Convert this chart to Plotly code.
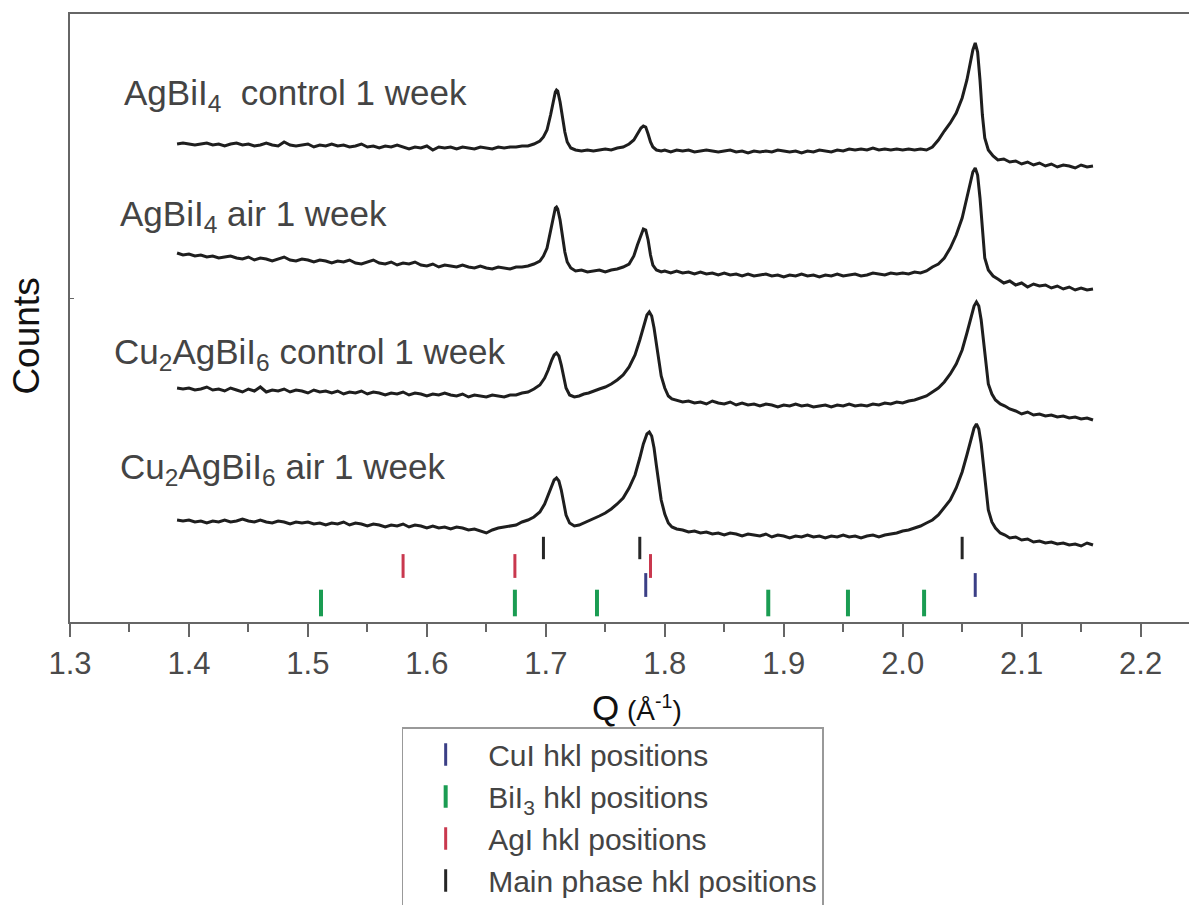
import plotly.graph_objects as go

# ---------------- data (Q in 1/Å, intensity in arbitrary counts) ----------------
agbii4_control = [
    [1.390, 6], [1.395, 7], [1.400, 6], [1.405, 5], [1.410, 6], [1.415, 7], [1.420, 5], [1.425, 6],
    [1.430, 4], [1.435, 6], [1.440, 7], [1.445, 5], [1.450, 6], [1.455, 4], [1.460, 5], [1.465, 7],
    [1.470, 5], [1.475, 4], [1.480, 8], [1.485, 5], [1.490, 4], [1.495, 5], [1.500, 6], [1.505, 3],
    [1.510, 5], [1.515, 4], [1.520, 6], [1.525, 4], [1.530, 5], [1.535, 3], [1.540, 4], [1.545, 6],
    [1.550, 3], [1.555, 4], [1.560, 2], [1.565, 4], [1.570, 3], [1.575, 5], [1.580, 3], [1.585, 1],
    [1.590, 3], [1.595, 2], [1.600, 4], [1.605, 0], [1.610, 3], [1.615, 2], [1.620, 3], [1.625, 1],
    [1.630, 3], [1.635, 2], [1.640, 1], [1.645, 3], [1.650, 2], [1.655, 1], [1.660, 3], [1.665, 2],
    [1.670, 3], [1.675, 3], [1.680, 4], [1.685, 4], [1.690, 6], [1.695, 9], [1.698, 13], [1.701, 20],
    [1.704, 35], [1.706, 48], [1.708, 58], [1.709, 60], [1.710, 59], [1.712, 48], [1.714, 32],
    [1.716, 18], [1.718, 8], [1.721, 2], [1.725, 0], [1.730, -1], [1.735, 0], [1.740, -1], [1.745, 0],
    [1.750, 1], [1.755, 0], [1.760, 2], [1.765, 3], [1.770, 6], [1.774, 10], [1.777, 16], [1.780, 22],
    [1.782, 24], [1.784, 23], [1.786, 16], [1.788, 8], [1.790, 3], [1.793, 0], [1.797, -1],
    [1.800, 0], [1.805, -2], [1.810, 0], [1.815, -1], [1.820, 0], [1.825, -2], [1.830, -1], [1.835, 0],
    [1.840, -1], [1.845, -2], [1.850, -1], [1.855, 0], [1.860, -2], [1.865, -1], [1.870, -3],
    [1.875, -1], [1.880, -2], [1.885, -1], [1.890, -2], [1.895, 0], [1.900, -1], [1.905, -2],
    [1.910, -1], [1.915, -3], [1.920, -1], [1.925, -2], [1.930, 0], [1.935, -1], [1.940, -2],
    [1.945, 0], [1.950, -1], [1.955, 1], [1.960, 0], [1.965, 1], [1.970, 0], [1.975, 2], [1.980, 0],
    [1.985, 1], [1.990, 0], [1.995, 1], [2.000, 0], [2.005, 1], [2.010, 0], [2.015, 1], [2.020, 0],
    [2.025, 3], [2.030, 10], [2.035, 19], [2.040, 27], [2.045, 37], [2.050, 52], [2.054, 70],
    [2.057, 88], [2.059, 100], [2.061, 107], [2.063, 98], [2.065, 70], [2.067, 35], [2.069, 12],
    [2.072, 0], [2.076, -6], [2.080, -10], [2.085, -9], [2.090, -12], [2.095, -11], [2.100, -14],
    [2.105, -12], [2.110, -15], [2.115, -13], [2.120, -16], [2.125, -14], [2.130, -17], [2.135, -15],
    [2.140, -16], [2.145, -18], [2.150, -15], [2.155, -17], [2.160, -16],
]

agbii4_air = [
    [1.390, 17], [1.395, 15], [1.400, 16], [1.405, 14], [1.410, 15], [1.415, 13], [1.420, 14],
    [1.425, 12], [1.430, 13], [1.435, 14], [1.440, 12], [1.445, 11], [1.450, 13], [1.455, 10],
    [1.460, 12], [1.465, 11], [1.470, 9], [1.475, 11], [1.480, 13], [1.485, 10], [1.490, 9],
    [1.495, 11], [1.500, 10], [1.505, 8], [1.510, 10], [1.515, 9], [1.520, 7], [1.525, 9],
    [1.530, 8], [1.535, 10], [1.540, 7], [1.545, 6], [1.550, 8], [1.555, 10], [1.560, 7], [1.565, 6],
    [1.570, 8], [1.575, 5], [1.580, 7], [1.585, 6], [1.590, 8], [1.595, 5], [1.600, 4], [1.605, 6],
    [1.610, 3], [1.615, 5], [1.620, 4], [1.625, 3], [1.630, 5], [1.635, 3], [1.640, 2], [1.645, 4],
    [1.650, 2], [1.655, 1], [1.660, 3], [1.665, 2], [1.670, 1], [1.675, 3], [1.680, 3], [1.685, 4],
    [1.690, 6], [1.695, 9], [1.698, 14], [1.701, 22], [1.704, 38], [1.706, 52], [1.708, 62],
    [1.709, 63], [1.710, 61], [1.712, 50], [1.714, 34], [1.716, 18], [1.718, 8], [1.721, 2],
    [1.725, -1], [1.730, 0], [1.735, -2], [1.740, -1], [1.745, 0], [1.750, -2], [1.755, 0],
    [1.760, 1], [1.765, 3], [1.770, 6], [1.774, 14], [1.777, 25], [1.780, 36], [1.782, 41],
    [1.784, 40], [1.786, 30], [1.788, 15], [1.790, 5], [1.793, 0], [1.797, -2], [1.800, -1],
    [1.805, -3], [1.810, -1], [1.815, -3], [1.820, -2], [1.825, -4], [1.830, -2], [1.835, -4],
    [1.840, -3], [1.845, -5], [1.850, -3], [1.855, -5], [1.860, -4], [1.865, -6], [1.870, -4],
    [1.875, -6], [1.880, -5], [1.885, -4], [1.890, -6], [1.895, -5], [1.900, -7], [1.905, -5],
    [1.910, -6], [1.915, -4], [1.920, -6], [1.925, -5], [1.930, -7], [1.935, -5], [1.940, -6],
    [1.945, -4], [1.950, -6], [1.955, -5], [1.960, -4], [1.965, -6], [1.970, -5], [1.975, -3],
    [1.980, -4], [1.985, -5], [1.990, -3], [1.995, -4], [2.000, -3], [2.005, -4], [2.010, -2],
    [2.015, -3], [2.020, -1], [2.025, 3], [2.030, 6], [2.035, 12], [2.040, 22], [2.045, 35],
    [2.050, 52], [2.054, 72], [2.057, 88], [2.059, 98], [2.061, 102], [2.063, 95], [2.065, 72],
    [2.067, 38], [2.069, 12], [2.072, 0], [2.076, -6], [2.080, -9], [2.085, -13], [2.090, -11],
    [2.095, -15], [2.100, -13], [2.105, -17], [2.110, -14], [2.115, -16], [2.120, -15], [2.125, -18],
    [2.130, -16], [2.135, -19], [2.140, -17], [2.145, -20], [2.150, -18], [2.155, -20], [2.160, -19],
]

cu2agbii6_control = [
    [1.390, 12], [1.395, 11], [1.400, 12], [1.405, 10], [1.410, 11], [1.415, 13], [1.420, 10],
    [1.425, 11], [1.430, 9], [1.435, 12], [1.440, 10], [1.445, 8], [1.450, 11], [1.455, 9],
    [1.460, 13], [1.465, 8], [1.470, 10], [1.475, 9], [1.480, 11], [1.485, 8], [1.490, 10],
    [1.495, 9], [1.500, 7], [1.505, 10], [1.510, 8], [1.515, 9], [1.520, 7], [1.525, 9], [1.530, 6],
    [1.535, 8], [1.540, 7], [1.545, 9], [1.550, 6], [1.555, 8], [1.560, 7], [1.565, 5], [1.570, 7],
    [1.575, 6], [1.580, 8], [1.585, 5], [1.590, 7], [1.595, 6], [1.600, 4], [1.605, 6], [1.610, 5],
    [1.615, 7], [1.620, 5], [1.625, 4], [1.630, 6], [1.635, 3], [1.640, 5], [1.645, 4], [1.650, 3],
    [1.655, 5], [1.660, 4], [1.665, 3], [1.670, 5], [1.675, 5], [1.680, 7], [1.685, 8], [1.690, 11],
    [1.695, 15], [1.699, 22], [1.702, 30], [1.705, 40], [1.707, 45], [1.709, 47], [1.711, 44],
    [1.713, 35], [1.715, 22], [1.717, 12], [1.720, 5], [1.724, 3], [1.728, 4], [1.732, 6],
    [1.736, 7], [1.740, 9], [1.745, 11], [1.750, 13], [1.755, 16], [1.760, 20], [1.765, 25],
    [1.770, 33], [1.775, 45], [1.779, 60], [1.782, 74], [1.785, 85], [1.787, 88], [1.789, 84],
    [1.791, 72], [1.793, 55], [1.795, 38], [1.797, 24], [1.800, 12], [1.803, 4], [1.806, 1],
    [1.810, 0], [1.815, -2], [1.820, -1], [1.825, -3], [1.830, -2], [1.835, -4], [1.840, -1],
    [1.845, -3], [1.850, -4], [1.855, -2], [1.860, -5], [1.865, -3], [1.870, -5], [1.875, -4],
    [1.880, -6], [1.885, -4], [1.890, -5], [1.895, -7], [1.900, -5], [1.905, -6], [1.910, -4],
    [1.915, -6], [1.920, -5], [1.925, -7], [1.930, -6], [1.935, -5], [1.940, -7], [1.945, -5],
    [1.950, -6], [1.955, -4], [1.960, -6], [1.965, -5], [1.970, -6], [1.975, -4], [1.980, -5],
    [1.985, -3], [1.990, -4], [1.995, -2], [2.000, -3], [2.005, -1], [2.010, 0], [2.015, 2],
    [2.020, 4], [2.025, 8], [2.030, 12], [2.035, 18], [2.040, 26], [2.045, 36], [2.050, 50],
    [2.054, 67], [2.057, 82], [2.060, 94], [2.062, 98], [2.064, 94], [2.066, 80], [2.068, 58],
    [2.070, 34], [2.072, 16], [2.075, 6], [2.078, 0], [2.082, -4], [2.086, -6], [2.090, -9],
    [2.095, -11], [2.100, -14], [2.105, -12], [2.110, -15], [2.115, -14], [2.120, -16], [2.125, -15],
    [2.130, -17], [2.135, -16], [2.140, -18], [2.145, -17], [2.150, -19], [2.155, -18], [2.160, -20],
]

cu2agbii6_air = [
    [1.390, 10], [1.395, 9], [1.400, 10], [1.405, 8], [1.410, 9], [1.415, 7], [1.420, 9], [1.425, 8],
    [1.430, 10], [1.435, 8], [1.440, 9], [1.445, 11], [1.450, 9], [1.455, 8], [1.460, 10], [1.465, 8],
    [1.470, 7], [1.475, 9], [1.480, 8], [1.485, 6], [1.490, 8], [1.495, 7], [1.500, 8], [1.505, 6],
    [1.510, 7], [1.515, 5], [1.520, 7], [1.525, 6], [1.530, 8], [1.535, 5], [1.540, 7], [1.545, 6],
    [1.550, 4], [1.555, 6], [1.560, 5], [1.565, 3], [1.570, 5], [1.575, 4], [1.580, 6], [1.585, 3],
    [1.590, 5], [1.595, 4], [1.600, 2], [1.605, 4], [1.610, 2], [1.615, 3], [1.620, 1], [1.625, 3],
    [1.630, 2], [1.635, 0], [1.640, 1], [1.645, -1], [1.650, -3], [1.655, 0], [1.660, 2], [1.665, 3],
    [1.670, 4], [1.675, 5], [1.680, 8], [1.685, 10], [1.690, 13], [1.695, 18], [1.699, 26],
    [1.702, 35], [1.705, 45], [1.707, 50], [1.709, 52], [1.711, 49], [1.713, 40], [1.715, 27],
    [1.717, 15], [1.720, 7], [1.724, 4], [1.728, 5], [1.732, 7], [1.736, 9], [1.740, 11], [1.745, 14],
    [1.750, 17], [1.755, 21], [1.760, 26], [1.765, 32], [1.770, 42], [1.775, 55], [1.779, 72],
    [1.782, 86], [1.785, 96], [1.787, 98], [1.789, 94], [1.791, 82], [1.793, 64], [1.795, 45],
    [1.797, 30], [1.800, 16], [1.803, 7], [1.806, 3], [1.810, 1], [1.815, 0], [1.820, -2],
    [1.825, -1], [1.830, -3], [1.835, -2], [1.840, -4], [1.845, -3], [1.850, -5], [1.855, -3],
    [1.860, -4], [1.865, -6], [1.870, -4], [1.875, -5], [1.880, -6], [1.885, -4], [1.890, -7],
    [1.895, -5], [1.900, -6], [1.905, -8], [1.910, -6], [1.915, -7], [1.920, -5], [1.925, -7],
    [1.930, -6], [1.935, -8], [1.940, -6], [1.945, -7], [1.950, -5], [1.955, -7], [1.960, -6],
    [1.965, -8], [1.970, -6], [1.975, -5], [1.980, -7], [1.985, -5], [1.990, -4], [1.995, -3],
    [2.000, -1], [2.005, 0], [2.010, 2], [2.015, 4], [2.020, 7], [2.025, 10], [2.030, 15],
    [2.035, 22], [2.040, 30], [2.045, 42], [2.050, 58], [2.054, 75], [2.057, 90], [2.060, 102],
    [2.062, 106], [2.064, 101], [2.066, 86], [2.068, 62], [2.070, 38], [2.072, 20], [2.075, 8],
    [2.078, 2], [2.082, -3], [2.086, -5], [2.090, -8], [2.095, -7], [2.100, -10], [2.105, -9],
    [2.110, -12], [2.115, -11], [2.120, -13], [2.125, -12], [2.130, -14], [2.135, -13], [2.140, -15],
    [2.145, -14], [2.150, -16], [2.155, -13], [2.160, -15],
]

sample_labels = [
    "AgBiI<sub>4</sub>  control 1 week",
    "AgBiI<sub>4</sub> air 1 week",
    "Cu<sub>2</sub>AgBiI<sub>6</sub> control 1 week",
    "Cu<sub>2</sub>AgBiI<sub>6</sub> air 1 week",
]
stack_offsets = [472, 352, 222, 92]

# hkl reflection positions (Q, 1/Å)
cui_hkl = [1.784, 2.061]
bii3_hkl = [1.511, 1.674, 1.743, 1.887, 1.954, 2.018]
agi_hkl = [1.580, 1.674, 1.788]
main_hkl = [1.698, 1.779, 2.050]

x_ticks = [1.3, 1.4, 1.5, 1.6, 1.7, 1.8, 1.9, 2.0, 2.1, 2.2]

FONT = "Liberation Sans, Arial, sans-serif"

# ---------------- figure ----------------
fig = go.Figure()
curves = [agbii4_control, agbii4_air, cu2agbii6_control, cu2agbii6_air]
for pts, off in zip(curves, stack_offsets):
    fig.add_trace(go.Scatter(
        x=[p[0] for p in pts], y=[p[1] + off for p in pts], mode="lines",
        line=dict(color="#1e1e1e", width=3), showlegend=False, hoverinfo="skip"))

hkl_sets = [
    ("CuI hkl positions", cui_hkl, "#3b3f86", 37, 17, 3),
    ("BiI<sub>3</sub> hkl positions", bii3_hkl, "#1a9c52", 19, 19, 4),
    ("AgI hkl positions", agi_hkl, "#c9384e", 56, 17, 3),
    ("Main phase hkl positions", main_hkl, "#262626", 74, 16, 3),
]
for name, qs, col, yrow, sz, lw in hkl_sets:
    fig.add_trace(go.Scatter(
        x=qs, y=[yrow] * len(qs), mode="markers", name=name,
        marker=dict(symbol="line-ns", size=sz, line=dict(color=col, width=lw)),
        hoverinfo="skip"))

label_pos = [(1.3433, 527), (1.3400, 406), (1.3357, 268), (1.3400, 153)]
for txt, (lx, ly) in zip(sample_labels, label_pos):
    fig.add_annotation(x=lx, y=ly, xref="x", yref="y", text=txt, showarrow=False,
                       xanchor="left", yanchor="middle",
                       font=dict(family=FONT, size=35, color="#444444"))

fig.add_annotation(x=-0.039, y=0.47, xref="paper", yref="paper", text="Counts", textangle=-90,
                   showarrow=False, xanchor="center", yanchor="middle",
                   font=dict(family=FONT, size=37, color="#111111"))
fig.add_annotation(x=0.507, y=-0.14, xref="paper", yref="paper",
                   text="Q<span style='font-size:28px'> (Å<sup>-1</sup>)</span>",
                   showarrow=False, xanchor="center", yanchor="middle",
                   font=dict(family=FONT, size=35, color="#111111"))

fig.update_layout(
    width=1189, height=905,
    margin=dict(l=70, r=0, t=14, b=283, autoexpand=False),
    plot_bgcolor="white", paper_bgcolor="white",
    font=dict(family=FONT),
    legend=dict(x=0.2964, y=-0.1727, xanchor="left", yanchor="top",
                bordercolor="#999999", borderwidth=1.5, bgcolor="white",
                font=dict(size=30, color="#444444"), itemwidth=75, tracegroupgap=0,
                traceorder="normal"),
)
fig.update_xaxes(
    range=[1.3, 2.2407], tickvals=x_ticks, ticktext=[f"{t:.1f}" for t in x_ticks],
    showline=True, linecolor="#666666", linewidth=2, mirror=True,
    ticks="outside", ticklen=13, tickwidth=2, tickcolor="#666666",
    minor=dict(dtick=0.05, tick0=1.3, ticks="outside", ticklen=8, tickwidth=2, tickcolor="#666666"),
    tickfont=dict(size=31, color="#4a4a4a"), showgrid=False, zeroline=False,
)
fig.update_yaxes(
    range=[0, 608], showline=True, linecolor="#666666", linewidth=2, mirror=False,
    tickvals=[324], ticks="inside", ticklen=4, tickcolor="#666666", showticklabels=False,
    showgrid=False, zeroline=False,
)

fig.write_html("out.html")
